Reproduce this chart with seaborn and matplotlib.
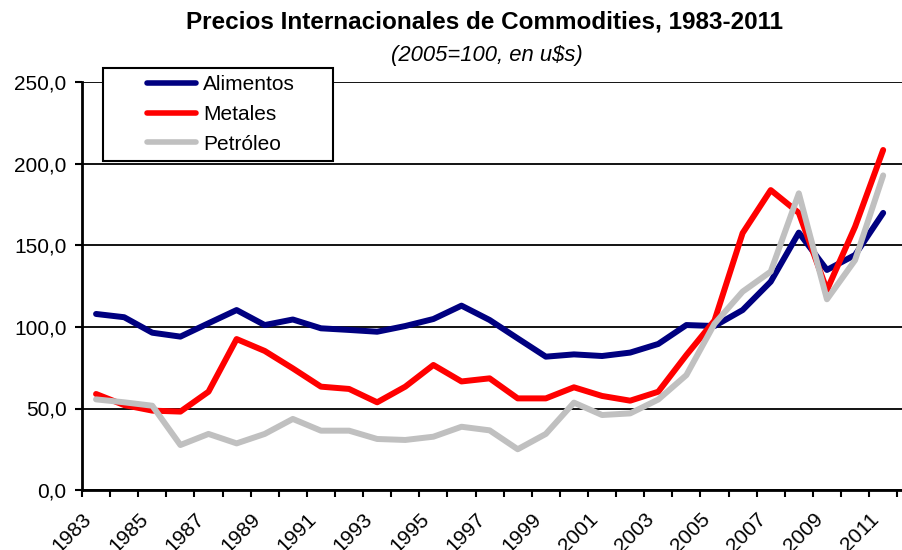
import numpy as np
import pandas as pd
import matplotlib
matplotlib.use("Agg")
import matplotlib.pyplot as plt
from matplotlib.patches import Rectangle
import seaborn as sns

# Datos (indices 2005=100, en u$s)
anios = list(range(1983, 2012))
alimentos = [108.0, 106.0, 96.5, 94.1, 102.3, 110.4, 101.2, 104.6, 99.2, 98.2,
             97.1, 100.6, 104.9, 113.1, 104.3, 93.0, 81.8, 83.2, 82.2, 84.3,
             89.6, 101.2, 100.6, 110.4, 127.8, 157.9, 135.0, 144.2, 170.0]
metales = [58.9, 52.1, 48.7, 48.1, 60.3, 92.6, 85.3, 74.6, 63.4, 62.0,
           53.8, 63.4, 76.7, 66.6, 68.5, 56.2, 56.2, 63.0, 57.7, 54.8,
           60.3, 82.8, 104.0, 157.6, 184.0, 170.0, 122.7, 161.5, 208.6]
petroleo = [55.6, 53.8, 51.7, 27.6, 34.4, 28.6, 34.4, 43.6, 36.4, 36.4,
            31.3, 30.7, 32.7, 38.8, 36.6, 25.0, 34.4, 53.6, 46.0, 47.0,
            55.5, 70.5, 102.0, 121.7, 134.0, 182.0, 117.0, 141.0, 193.0]
series = ["Alimentos", "Metales", "Petróleo"]
colores = ["#000080", "#FF0000", "#C0C0C0"]

df = pd.DataFrame({
    "anio": anios * 3,
    "valor": alimentos + metales + petroleo,
    "serie": np.repeat(series, len(anios)),
})

sns.set_style("white")
plt.rcParams["font.family"] = ["Liberation Sans", "DejaVu Sans"]
plt.rcParams["text.color"] = "black"
plt.rcParams["xtick.color"] = "black"
plt.rcParams["ytick.color"] = "black"

fig = plt.figure(figsize=(9.02, 5.5), dpi=100)
ax = fig.add_axes([82 / 902, 1 - 490 / 550, 1 - 82 / 902, (490 - 82.5) / 550])

sns.lineplot(data=df, x="anio", y="valor", hue="serie", palette=colores,
             linewidth=4.3, ax=ax, legend=False)

ax.set_xlim(1982.5, 2011.67)
ax.set_ylim(0, 250)
ax.set_yticks(range(0, 251, 50))
ax.set_yticklabels([f"{v:.1f}".replace(".", ",") for v in range(0, 251, 50)],
                   fontsize=15)
ax.yaxis.grid(True, color="black", linewidth=1.3)
ax.xaxis.grid(False)

# marcas entre categorias, etiqueta cada dos anios
ax.set_xticks([a - 0.5 for a in anios if a % 2 == 1])
ax.set_xticklabels([str(a) for a in anios if a % 2 == 1], fontsize=15,
                   rotation=45, ha="right", va="top", rotation_mode="anchor")
ax.set_xticks([a - 0.5 for a in anios] + [2011.5], minor=True)
ax.tick_params(axis="x", which="both", direction="out", length=5, width=1.5,
               color="black", pad=9, bottom=True)
ax.tick_params(axis="y", direction="out", length=5, width=1.5, color="black",
               left=True, pad=6)
ax.set_xlabel("")
ax.set_ylabel("")

for lado in ["top", "right"]:
    ax.spines[lado].set_visible(False)
for lado in ["left", "bottom"]:
    ax.spines[lado].set_color("black")
    ax.spines[lado].set_linewidth(2)

fig.text(485 / 902, 1 - 22 / 550, "Precios Internacionales de Commodities, 1983-2011",
         ha="center", va="center", fontsize=17.5, fontweight="bold")
fig.text(487 / 902, 1 - 55 / 550, "(2005=100, en u$s)", ha="center", va="center",
         fontsize=15.8, style="italic")

# caja de la leyenda con margenes como en el original
caja = Rectangle((103 / 902, 1 - 161 / 550), 230 / 902, 93 / 550,
                 transform=fig.transFigure, facecolor="white",
                 edgecolor="black", linewidth=1.5, zorder=5, clip_on=False)
ax.add_patch(caja)
handles = [plt.Line2D([], [], color=c, linewidth=4) for c in colores]
leg = ax.legend(handles, series, loc="upper left",
                bbox_to_anchor=(147 / 902, 1 - 75 / 550),
                bbox_transform=fig.transFigure, fontsize=15, frameon=False,
                handlelength=2.35, handletextpad=0.33,
                labelspacing=0.52, borderpad=0, borderaxespad=0)
leg.set_zorder(6)

fig.savefig("out.png", dpi=100)
